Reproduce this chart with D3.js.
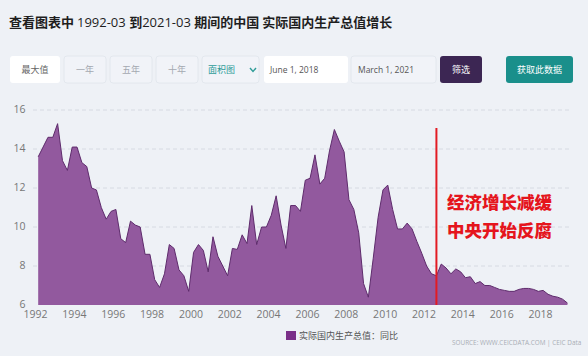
<!DOCTYPE html>
<html><head><meta charset="utf-8">
<script src="https://cdn.jsdelivr.net/npm/d3@7"></script>
<style>
html,body{margin:0;padding:0;background:#eef1f6;}
svg{display:block;}
</style></head>
<body>
<svg id="chart" width="588" height="356"></svg>
<script>
// ---- data ----
const titleParts = [["查看图表中 ",true],["1992-03 ",false],["到",true],["2021-03 ",false],["期间的中国 实际国内生产总值增长",true]];
const buttonLabels = ["最大值","一年","五年","十年"];
const chartTypeLabel = "面积图";
const startDateLabel = "June 1, 2018";
const endDateLabel = "March 1, 2021";
const filterLabel = "筛选";
const getDataLabel = "获取此数据";
const seriesName = "实际国内生产总值：同比";
const sourceText = "SOURCE: WWW.CEICDATA.COM | CEIC Data";
const annotationLines = ["经济增长减缓","中央开始反腐"];
const annotationDate = "2012-09";
const firstPeriod = "1992-03"; // quarterly observations
const gdpGrowth = [
  13.6, 14.1, 14.6, 14.6,
  15.3, 13.4, 12.9, 14.1,
  14.1, 13.3, 13.1, 12.0,
  11.9, 11.0, 10.4, 10.8,
  10.9, 9.4, 9.2, 10.3,
  10.1, 10.0, 8.6, 8.6,
  7.3, 6.9, 7.6, 9.1,
  8.9, 7.8, 7.5, 6.7,
  8.7, 9.1, 8.8, 7.7,
  9.5, 8.5, 8.0, 7.5,
  8.9, 8.85, 9.6, 9.15,
  11.1, 9.1, 10.0, 10.0,
  10.6, 11.6, 10.1, 8.9,
  11.1, 11.1, 10.8, 12.4,
  12.5, 13.7, 12.2, 12.5,
  13.9, 15.0, 14.4, 13.85,
  11.4, 10.9, 9.7, 7.1,
  6.4, 8.4, 10.5, 11.9,
  12.15, 10.9, 9.9, 9.9,
  10.2, 9.9, 9.25, 8.65,
  8.0, 7.6, 7.5, 8.1,
  7.9, 7.6, 7.85, 7.7,
  7.4, 7.45, 7.1, 7.2,
  7.0, 7.0, 6.9, 6.8,
  6.75, 6.7, 6.7, 6.8,
  6.85, 6.85, 6.8, 6.7,
  6.75, 6.55, 6.45, 6.4,
  6.3, 6.1
];
const yTicks = [6, 8, 10, 12, 14, 16];
const xTickYears = [1992,1994,1996,1998,2000,2002,2004,2006,2008,2010,2012,2014,2016,2018];

// ---- drawing ----
const svg = d3.select("#chart");
const CJK = "'Noto Sans CJK SC','Noto Sans',sans-serif";
const LAT = "'Open Sans','Noto Sans',sans-serif";
svg.append("rect").attr("width",588).attr("height",356).attr("fill","#eef1f6");

// title
const t = svg.append("text").attr("x",9).attr("y",27).attr("font-size",13).attr("fill","#1e1e1e").attr("font-family",CJK);
titleParts.forEach(([s,b]) => t.append("tspan").text(s).attr("font-weight", b ? 700 : 400)
  .attr("font-family", b ? CJK : LAT));

// buttons
const by0 = 56, bh = 27;
function btn(x0, x1, fill, stroke, label, color, anchor, tx, fs, fam) {
  svg.append("rect").attr("x",x0).attr("y",by0).attr("width",x1-x0).attr("height",bh).attr("rx",3)
    .attr("fill",fill).attr("stroke",stroke).attr("stroke-width",stroke==="none"?0:0.8);
  svg.append("text").attr("x", tx!==undefined ? tx : (x0+x1)/2).attr("y",by0+bh/2+3.2)
    .attr("text-anchor",anchor||"middle").attr("font-size",fs||9).attr("font-family",fam||CJK)
    .attr("fill",color).text(label);
}
const btnX = [[10,60],[64,106],[110,152],[156,198]];
buttonLabels.forEach((l,i) => btn(btnX[i][0], btnX[i][1], i===0?"#ffffff":"#f1f3f8", i===0?"none":"#e0e4eb", l, i===0?"#666":"#a4a8b0"));
btn(202,259,"#f1f3f8","#e0e4eb",chartTypeLabel,"#2f9c98","start",208);
svg.append("path").attr("d","M250,68 L253,71.5 L256,68").attr("fill","none").attr("stroke","#2f9c98").attr("stroke-width",1.4);
btn(264,348,"#ffffff","none",startDateLabel,"#555","start",270,8.5,LAT);
btn(351,436,"#f1f3f8","#e0e4eb",endDateLabel,"#555","start",358,8.5,LAT);
btn(440,482,"#3c2653","none",filterLabel,"#ffffff");
btn(506,573,"#1a8f8b","none",getDataLabel,"#ffffff");

// scales
const parse = d3.timeParse("%Y-%m");
const start = parse(firstPeriod);
const data = gdpGrowth.map((v,i) => ({date: d3.timeMonth.offset(start, 3*i), value: v}));
const x = d3.scaleTime().domain([new Date(1992,0,1), new Date(2018,0,1)]).range([35, 540]);
const y = d3.scaleLinear().domain([6,16]).range([305,110]);

// gridlines
svg.append("g").selectAll("line").data(yTicks.filter(d=>d>6)).join("line")
  .attr("x1",33).attr("x2",572).attr("y1",d=>y(d)).attr("y2",d=>y(d))
  .attr("stroke","#d6dae2").attr("stroke-width",1).attr("stroke-dasharray","4,3");

// y axis
const ya = svg.append("g").attr("transform","translate(25.5,0)")
  .call(d3.axisLeft(y).tickValues(yTicks).tickSize(0).tickPadding(0));
ya.select(".domain").remove();
ya.selectAll("text").attr("font-size",10.5).attr("font-family",LAT).attr("fill","#777").attr("dy","0.25em");

// area
svg.append("path").datum(data)
  .attr("d", d3.area().x(d=>x(d.date)).y0(y(6)).y1(d=>y(d.value)))
  .attr("fill","#92599e");
svg.append("path").datum(data)
  .attr("d", d3.line().x(d=>x(d.date)).y(d=>y(d.value)))
  .attr("fill","none").attr("stroke","#5e2b6c").attr("stroke-width",1).attr("stroke-linejoin","round");

// x axis
const xa = svg.append("g").attr("transform","translate(0,308)")
  .call(d3.axisBottom(x).tickValues(xTickYears.map(yv=>new Date(yv,0,1))).tickFormat(d3.timeFormat("%Y")).tickSize(0).tickPadding(3));
xa.select(".domain").remove();
xa.selectAll("text").attr("font-size",10.5).attr("font-family",LAT).attr("fill","#777");

// annotation
const ax = x(parse(annotationDate));
svg.append("line").attr("x1",ax).attr("x2",ax).attr("y1",128).attr("y2",y(6))
  .attr("stroke","#e21b23").attr("stroke-width",2);
annotationLines.forEach((s,i) => svg.append("text").attr("x",447).attr("y",208.5+i*28)
  .attr("font-size",17.5).attr("font-weight",900).attr("font-family",CJK).attr("fill","#e5151d").text(s));

// legend
svg.append("rect").attr("x",286).attr("y",331).attr("width",10).attr("height",9).attr("fill","#7a2f88");
svg.append("text").attr("x",299).attr("y",339).attr("font-size",9).attr("font-family",CJK).attr("fill","#555").text(seriesName);
svg.append("text").attr("x",452).attr("y",345).attr("font-size",6.4).attr("font-family",LAT).attr("fill","#a9adb5").text(sourceText);
</script>
</body></html>
